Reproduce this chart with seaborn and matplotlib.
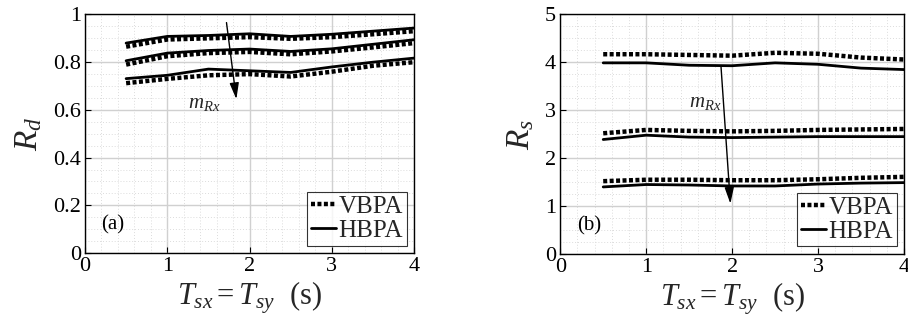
import numpy as np
import pandas as pd
import matplotlib
matplotlib.use("Agg")
import matplotlib.pyplot as plt
import seaborn as sns
from matplotlib.ticker import MultipleLocator
from matplotlib.lines import Line2D

T = [0.5, 1.0, 1.5, 2.0, 2.5, 3.0, 3.5, 4.0]

# Panel (a): R_d
rd_hbpa_1 = [0.880, 0.908, 0.912, 0.919, 0.908, 0.917, 0.930, 0.943]
rd_vbpa_1 = [0.865, 0.895, 0.900, 0.905, 0.898, 0.905, 0.917, 0.930]
rd_hbpa_2 = [0.806, 0.838, 0.849, 0.855, 0.845, 0.856, 0.875, 0.894]
rd_vbpa_2 = [0.790, 0.825, 0.838, 0.843, 0.833, 0.845, 0.862, 0.880]
rd_hbpa_3 = [0.731, 0.745, 0.771, 0.764, 0.757, 0.780, 0.800, 0.817]
rd_vbpa_3 = [0.712, 0.730, 0.745, 0.750, 0.740, 0.760, 0.785, 0.800]

# Panel (b): R_s
rs_vbpa_1 = [4.17, 4.17, 4.155, 4.14, 4.20, 4.18, 4.10, 4.06]
rs_hbpa_1 = [3.99, 3.99, 3.94, 3.93, 3.99, 3.96, 3.88, 3.85]
rs_vbpa_2 = [2.52, 2.59, 2.57, 2.56, 2.57, 2.59, 2.60, 2.61]
rs_hbpa_2 = [2.39, 2.48, 2.44, 2.43, 2.44, 2.45, 2.45, 2.45]
rs_vbpa_3 = [1.52, 1.55, 1.55, 1.54, 1.54, 1.56, 1.59, 1.61]
rs_hbpa_3 = [1.40, 1.45, 1.44, 1.42, 1.42, 1.46, 1.48, 1.49]

xticks = [0, 1, 2, 3, 4]
yticks_a = [0, 0.2, 0.4, 0.6, 0.8, 1]
ytick_labels_a = ["0", "0.2", "0.4", "0.6", "0.8", "1"]
yticks_b = [0, 1, 2, 3, 4, 5]

sns.set_theme(style="white")
plt.rcParams["font.family"] = ["Liberation Serif", "DejaVu Serif"]
plt.rcParams["mathtext.fontset"] = "custom"
plt.rcParams["mathtext.rm"] = "Liberation Serif"
plt.rcParams["mathtext.it"] = "Liberation Serif:italic"
plt.rcParams["mathtext.bf"] = "Liberation Serif:bold"

fig = plt.figure(figsize=(9.08, 3.29), dpi=100)
ax1 = fig.add_axes([0.0936, 0.231, 0.3624, 0.725])
ax2 = fig.add_axes([0.617, 0.228, 0.3786, 0.728])

dot_style = (0, (0.9, 0.55))

def draw(ax, pairs):
    for vb, hb in pairs:
        df_v = pd.DataFrame({"T": T, "v": vb})
        df_h = pd.DataFrame({"T": T, "v": hb})
        sns.lineplot(data=df_v, x="T", y="v", ax=ax, color="black",
                     linewidth=3.2, linestyle=dot_style, zorder=3)
        sns.lineplot(data=df_h, x="T", y="v", ax=ax, color="black",
                     linewidth=2.0, zorder=3)

def style(ax, ymax, yminor, yticks, ylabels, ylabel, tag):
    ax.set_xlim(0, 4)
    ax.set_ylim(0, ymax)
    ax.set_xticks(xticks)
    ax.set_xticklabels([str(x) for x in xticks])
    ax.set_yticks(yticks)
    ax.set_yticklabels(ylabels)
    ax.xaxis.set_minor_locator(MultipleLocator(0.2))
    ax.yaxis.set_minor_locator(MultipleLocator(yminor))
    ax.grid(which="major", color="#d0d0d0", linewidth=1.0)
    ax.grid(which="minor", color="#dcdcdc", linewidth=0.7, linestyle=(0, (1, 2)))
    ax.set_axisbelow(True)
    ax.tick_params(which="major", direction="in", length=4, width=0.8,
                   labelsize=16, colors="black", pad=3, top=False, right=False,
                   bottom=True, left=True)
    ax.tick_params(which="minor", length=0)
    for s in ax.spines.values():
        s.set_color("black")
        s.set_linewidth(1.0)
        s.set_visible(True)
    ax.set_xlabel(r"$T_{sx} = T_{sy}$  (s)", fontsize=22, labelpad=2)
    ax.set_ylabel(ylabel, fontsize=24, labelpad=6)
    ax.text(0.2, 0.1 * ymax, tag, fontsize=15, color="black")
    handles = [Line2D([], [], color="black", linewidth=3.2, linestyle=dot_style),
               Line2D([], [], color="black", linewidth=2.0)]
    leg = ax.legend(handles, ["VBPA", "HBPA"], loc="lower right", fontsize=18,
                    frameon=True, fancybox=False, edgecolor="black",
                    handlelength=1.0, handletextpad=0.1, borderpad=0.15,
                    labelspacing=0.05, borderaxespad=0.3)
    leg.get_frame().set_linewidth(0.8)

draw(ax1, [(rd_vbpa_1, rd_hbpa_1), (rd_vbpa_2, rd_hbpa_2), (rd_vbpa_3, rd_hbpa_3)])
draw(ax2, [(rs_vbpa_1, rs_hbpa_1), (rs_vbpa_2, rs_hbpa_2), (rs_vbpa_3, rs_hbpa_3)])

style(ax1, 1.0, 0.05, yticks_a, ytick_labels_a, r"$R_d$", "(a)")
style(ax2, 5.0, 0.25, yticks_b, [str(y) for y in yticks_b], r"$R_s$", "(b)")

# arrows
ax1.annotate("", xy=(1.84, 0.645), xytext=(1.72, 0.966),
             arrowprops=dict(arrowstyle="-|>,head_length=0.7,head_width=0.2",
                             color="black", lw=1.0,
                             mutation_scale=14, shrinkA=0, shrinkB=0), zorder=5)
ax1.text(1.45, 0.628, r"$m_{Rx}$", fontsize=15, ha="center", va="center")
ax2.annotate("", xy=(1.98, 1.05), xytext=(1.87, 3.93),
             arrowprops=dict(arrowstyle="-|>,head_length=0.7,head_width=0.2",
                             color="black", lw=1.0,
                             mutation_scale=14, shrinkA=0, shrinkB=0), zorder=5)
ax2.text(1.69, 3.17, r"$m_{Rx}$", fontsize=15, ha="center", va="center")

fig.savefig("out.png", dpi=100)
